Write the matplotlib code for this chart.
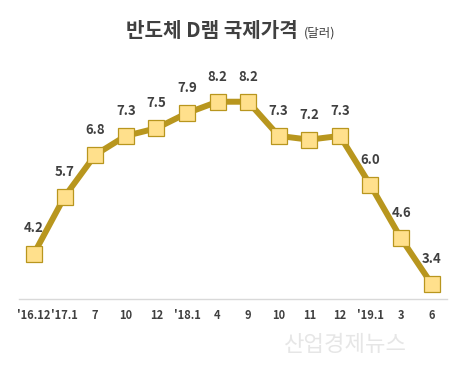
import matplotlib.pyplot as plt

plt.rcParams['font.family'] = ['Noto Sans CJK KR', 'DejaVu Sans']

# data
months = ["'16.12", "'17.1", "7", "10", "12", "'18.1", "4", "9",
          "10", "11", "12", "'19.1", "3", "6"]
price = [4.2, 5.7, 6.8, 7.3, 7.5, 7.9, 8.2, 8.2, 7.3, 7.2, 7.3, 6.0, 4.6, 3.4]

line_color = "#B8961E"
marker_fill = "#FFE08C"
text_color = "#404040"

fig = plt.figure(figsize=(4.57, 3.92), dpi=100)
ax = fig.add_axes([0.041, 0.237, 0.937, 0.61])

x = list(range(len(price)))
ax.plot(x, price, color=line_color, lw=4.3, marker="s", ms=11,
        mfc=marker_fill, mec=line_color, mew=0.9, zorder=3)

for xi, v in zip(x, price):
    ax.annotate(f"{v:.1f}", (xi, v), xytext=(0, 13), textcoords="offset points",
                ha="center", va="bottom", fontsize=9.5, fontweight="bold",
                color=text_color)

ax.set_xlim(-0.5, len(price) - 0.5)
ax.set_ylim(3.0, 9.3)
ax.set_xticks(x)
ax.set_xticklabels(months, fontsize=8, fontweight="bold", color=text_color)
ax.tick_params(axis="x", length=0, pad=7)
ax.set_yticks([])
for s in ["left", "right", "top"]:
    ax.spines[s].set_visible(False)
ax.spines["bottom"].set_color("#D9D9D9")
ax.spines["bottom"].set_linewidth(1.0)

fig.text(0.276, 0.922, "반도체 D램 국제가격", fontsize=14.5, fontweight="bold",
         color=text_color, ha="left", va="center")
fig.text(0.664, 0.916, "(달러)", fontsize=9, color=text_color,
         ha="left", va="center")

# watermark
fig.text(0.755, 0.122, "산업경제뉴스", fontsize=16, color="#E6E6E6",
         ha="center", va="center")

fig.savefig("out.png", dpi=100)
